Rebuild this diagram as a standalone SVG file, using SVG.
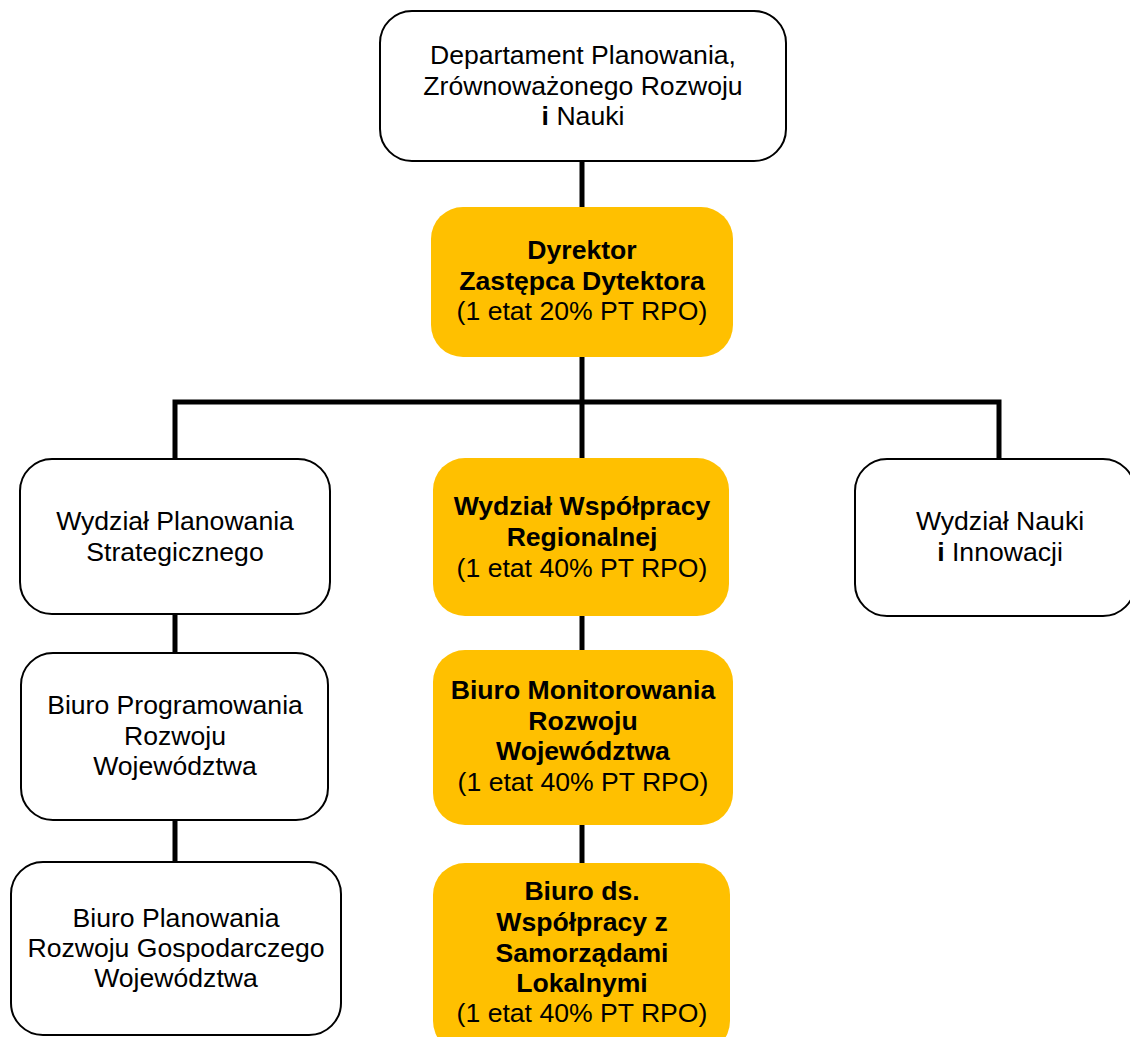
<svg xmlns="http://www.w3.org/2000/svg" width="1130" height="1037" viewBox="0 0 1130 1037">
  <style>
    .box { fill: #ffffff; stroke: #000000; stroke-width: 2; }
    .hi { fill: #ffc000; stroke: none; }
    .conn { fill: none; stroke: #000000; stroke-width: 5; }
    text { font-family: "Liberation Sans", Arial, sans-serif; font-size: 26.6px; fill: #000000; text-anchor: middle; }
    .b { font-weight: bold; }
  </style>
  <rect width="1130" height="1037" fill="#ffffff"/>

  <!-- connectors -->
  <g id="connectors">
    <line class="conn" x1="582" y1="160" x2="582" y2="208"/>
    <line class="conn" x1="582" y1="356" x2="582" y2="459"/>
    <polyline class="conn" points="175,459 175,402 999,402 999,459"/>
    <line class="conn" x1="175" y1="614" x2="175" y2="654"/>
    <line class="conn" x1="175" y1="819" x2="175" y2="863"/>
    <line class="conn" x1="582" y1="615" x2="582" y2="651"/>
    <line class="conn" x1="582" y1="824" x2="582" y2="864"/>
  </g>

  <g id="departament">
    <rect class="box" x="380" y="11" width="406" height="150" rx="32"/>
    <text x="583" y="64">Departament Planowania,</text>
    <text x="583" y="95">Zrównoważonego Rozwoju</text>
    <text x="583" y="125"><tspan class="b">i</tspan> Nauki</text>
  </g>

  <g id="dyrektor">
    <rect class="hi" x="431" y="207" width="302" height="150" rx="32"/>
    <text class="b" x="582" y="259">Dyrektor</text>
    <text class="b" x="582" y="290">Zastępca Dytektora</text>
    <text x="582" y="320">(1 etat 20% PT RPO)</text>
  </g>

  <g id="wydzial-planowania">
    <rect class="box" x="20" y="459" width="310" height="155" rx="32"/>
    <text x="175" y="530">Wydział Planowania</text>
    <text x="175" y="561">Strategicznego</text>
  </g>

  <g id="wydzial-wspolpracy">
    <rect class="hi" x="433" y="458" width="296" height="158" rx="32"/>
    <text class="b" x="582" y="515">Wydział Współpracy</text>
    <text class="b" x="582" y="546">Regionalnej</text>
    <text x="582" y="577">(1 etat 40% PT RPO)</text>
  </g>

  <g id="wydzial-nauki">
    <rect class="box" x="855" y="459" width="280" height="157" rx="32"/>
    <text x="1000" y="530">Wydział Nauki</text>
    <text x="1000" y="561"><tspan class="b">i</tspan> Innowacji</text>
  </g>

  <g id="biuro-programowania">
    <rect class="box" x="21" y="653" width="307" height="167" rx="32"/>
    <text x="175" y="714">Biuro Programowania</text>
    <text x="175" y="745">Rozwoju</text>
    <text x="175" y="775">Województwa</text>
  </g>

  <g id="biuro-monitorowania">
    <rect class="hi" x="433" y="650" width="300" height="175" rx="32"/>
    <text class="b" x="583" y="699">Biuro Monitorowania</text>
    <text class="b" x="583" y="730">Rozwoju</text>
    <text class="b" x="583" y="760">Województwa</text>
    <text x="583" y="791">(1 etat 40% PT RPO)</text>
  </g>

  <g id="biuro-planowania">
    <rect class="box" x="11" y="862" width="330" height="173" rx="32"/>
    <text x="176" y="927">Biuro Planowania</text>
    <text x="176" y="957">Rozwoju Gospodarczego</text>
    <text x="176" y="987">Województwa</text>
  </g>

  <g id="biuro-samorzady">
    <rect class="hi" x="433" y="863" width="297" height="190" rx="32"/>
    <text class="b" x="582" y="900">Biuro ds.</text>
    <text class="b" x="582" y="931">Współpracy z</text>
    <text class="b" x="582" y="962">Samorządami</text>
    <text class="b" x="582" y="992">Lokalnymi</text>
    <text x="582" y="1022">(1 etat 40% PT RPO)</text>
  </g>
</svg>
